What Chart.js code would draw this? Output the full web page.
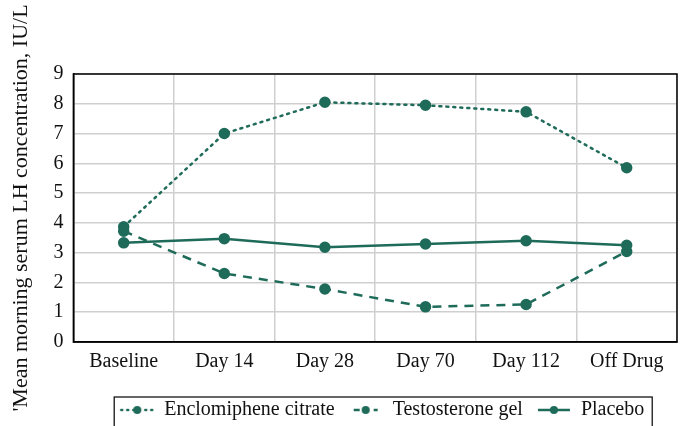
<!DOCTYPE html>
<html>
<head>
<meta charset="utf-8">
<script src="https://cdn.jsdelivr.net/npm/chart.js@4"></script>
<style>
  html, body { margin: 0; padding: 0; background: #fff; }
  #wrap { width: 684px; height: 426px; }
</style>
</head>
<body>
<div id="wrap"><canvas id="lhchart" width="684" height="426"></canvas></div>
<script>
const days = ['Baseline', 'Day 14', 'Day 28', 'Day 70', 'Day 112', 'Off Drug'];
const enclomiphene = [3.87, 7.0, 8.05, 7.95, 7.73, 5.85];
const testosterone = [3.72, 2.3, 1.78, 1.18, 1.26, 3.04];
const placebo = [3.33, 3.47, 3.18, 3.29, 3.4, 3.25];
const yTicks = [0, 1, 2, 3, 4, 5, 6, 7, 8, 9];

const teal = '#1f6b5a';
const serif = "'Liberation Serif', 'DejaVu Serif', serif";

// little legend samples: line style + dot, with a blank gap on the left
function sample(dash, len) {
  const c = document.createElement('canvas');
  c.width = 48; c.height = 12;
  const g = c.getContext('2d');
  const cx = 31, x0 = cx - len / 2, x1 = cx + len / 2;
  g.strokeStyle = teal;
  g.lineWidth = 2.5;
  g.lineCap = dash && dash[0] < 3 ? 'round' : 'butt';
  g.setLineDash(dash || []);
  g.beginPath(); g.moveTo(x0, 6); g.lineTo(x1, 6); g.stroke();
  g.fillStyle = teal;
  g.beginPath(); g.arc(cx, 6, 4, 0, Math.PI * 2); g.fill();
  return c;
}

const frame = {
  id: 'frame',
  afterLayout(chart) {
    // nudge the legend row down a little inside its box
    chart.legend.top += 4;
    chart.legend.bottom += 4;
  },
  afterDraw(chart) {
    const ctx = chart.ctx, a = chart.chartArea;
    ctx.save();
    ctx.strokeStyle = '#000';
    ctx.lineWidth = 1.5;
    ctx.strokeRect(a.left, a.top, a.right - a.left, a.bottom - a.top);
    const boxes = chart.legend.legendHitBoxes;
    if (boxes && boxes.length) {
      const l = Math.min(...boxes.map(b => b.left)) + 8;
      const r = Math.max(...boxes.map(b => b.left + b.width)) + 8;
      ctx.lineWidth = 1.2;
      ctx.strokeRect(l, chart.legend.top - 3, r - l, 40);
    }
    ctx.restore();
  }
};

const lhconfig = {
  type: 'line',
  data: {
    labels: days,
    datasets: [
      { label: 'Enclomiphene citrate', data: enclomiphene, borderDash: [2, 5], borderCapStyle: 'round', legendDash: [1, 5], legendLen: 32 },
      { label: 'Testosterone gel', data: testosterone, borderDash: [9, 7], legendDash: [6, 4], legendLen: 24 },
      { label: 'Placebo', data: placebo, legendDash: null, legendLen: 32 }
    ].map(d => Object.assign({
      borderColor: teal, backgroundColor: teal,
      borderWidth: 2.5, pointRadius: 4.5, pointHoverRadius: 4.5,
      tension: 0, fill: false
    }, d))
  },
  options: {
    responsive: false,
    animation: false,
    layout: { padding: { top: 74, right: 7, left: 8, bottom: 0 } },
    plugins: {
      tooltip: { enabled: false },
      legend: {
        position: 'bottom',
        fullSize: false,
        labels: {
          usePointStyle: true,
          pointStyleWidth: 48,
          color: '#111',
          font: { family: serif, size: 20 },
          padding: 0,
          generateLabels(chart) {
            return chart.data.datasets.map((ds, i) => ({
              text: ds.label,
              pointStyle: sample(ds.legendDash, ds.legendLen),
              datasetIndex: i,
              hidden: false,
              fontColor: '#111'
            }));
          }
        }
      }
    },
    scales: {
      x: {
        offset: true,
        grid: { offset: true, color: '#cfcfcf', lineWidth: 1.5, drawTicks: false },
        border: { color: '#000', width: 1.5 },
        ticks: { color: '#111', font: { family: serif, size: 20 }, padding: 8 },
        afterFit(axis) { axis.height += 14; }
      },
      y: {
        min: 0, max: 9,
        afterBuildTicks(axis) { axis.ticks = yTicks.map(v => ({ value: v })); },
        grid: { color: '#cfcfcf', lineWidth: 1.5, drawTicks: false },
        border: { color: '#000', width: 1.5 },
        ticks: { color: '#111', font: { family: serif, size: 20 }, padding: 10 },
        title: {
          display: true,
          text: "'Mean morning serum LH concentration, IU/L",
          color: '#111',
          font: { family: serif, size: 22 },
          padding: { top: 0, bottom: 9 }
        }
      }
    }
  },
  plugins: [frame]
};

const lhchart = new Chart(document.getElementById('lhchart'), lhconfig);
</script>
</body>
</html>
